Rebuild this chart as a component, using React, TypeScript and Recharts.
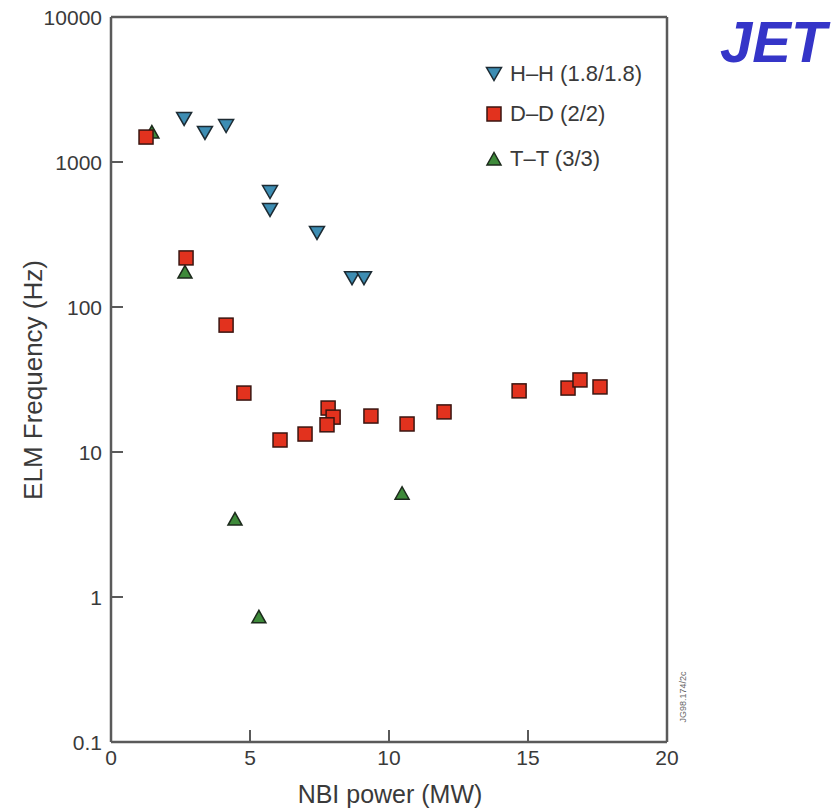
import { ScatterChart, Scatter, XAxis, YAxis, ReferenceLine } from 'recharts'

// NBI power (MW) and ELM frequency (Hz) per isotope
const hhPower = [2.63, 3.38, 4.14, 5.72, 5.72, 7.41, 8.67, 9.1]
const hhFreq = [1980, 1585, 1770, 620, 467, 324, 158, 158]

const ddPower = [1.26, 2.7, 4.14, 4.78, 6.08, 6.98, 7.81, 7.99, 7.77, 9.35, 10.65, 11.98, 14.68, 16.44, 16.87, 17.59]
const ddFreq = [1486, 218, 75, 25.5, 12.1, 13.3, 20.1, 17.4, 15.4, 17.7, 15.6, 18.9, 26.4, 27.6, 31.4, 28.1]

const ttPower = [1.47, 2.66, 4.46, 5.32, 10.47]
const ttFreq = [1610, 174, 3.45, 0.73, 5.2]

const xTicks = [0, 5, 10, 15, 20]
const yMajor = [0.1, 1, 10, 100, 1000, 10000]
const yLabels = ['0.1', '1', '10', '100', '1000', '10000']
const minorSteps = [2, 3, 4, 5, 6, 7, 8, 9]
const yMinor = yMajor.slice(0, -1).flatMap((d) => minorSteps.map((m) => +(d * m).toPrecision(3)))

const FONT = '"Liberation Sans", Arial, Helvetica, sans-serif'
const AXIS = '#5a5a5a'
const TEXT = '#3a3a3a'

const toPoints = (xs: number[], ys: number[]) => xs.map((x, i) => ({ x, y: ys[i] }))

const TriDown = (props: any) => {
  const cx = Number(props.cx)
  const cy = Number(props.cy)
  return (
    <path
      d={`M${cx - 7.5},${cy - 6.5}L${cx + 7.5},${cy - 6.5}L${cx},${cy + 6.5}Z`}
      fill="#3d8db3"
      stroke="#1d2b33"
      strokeWidth={1.5}
    />
  )
}

const TriUp = (props: any) => {
  const cx = Number(props.cx)
  const cy = Number(props.cy)
  return (
    <path
      d={`M${cx - 7},${cy + 6}L${cx + 7},${cy + 6}L${cx},${cy - 6.5}Z`}
      fill="#3e8a3a"
      stroke="#1c2a1c"
      strokeWidth={1.5}
    />
  )
}

const Square = (props: any) => {
  const cx = Number(props.cx)
  const cy = Number(props.cy)
  return <rect x={cx - 7} y={cy - 7} width={14} height={14} fill="#e2321e" stroke="#3a1510" strokeWidth={1.5} />
}

// labels only; the tick marks themselves are the axes' own tick lines (drawn inward)
const YTick = (props: any) => {
  const idx = yMajor.indexOf(props.payload.value)
  return (
    <text x={102} y={Number(props.y)} dy="0.36em" textAnchor="end" fontSize={21} fill={TEXT} fontFamily={FONT}>
      {yLabels[idx]}
    </text>
  )
}

const XTick = (props: any) => (
  <text x={Number(props.x)} y={765} textAnchor="middle" fontSize={21} fill={TEXT} fontFamily={FONT}>
    {props.payload.value}
  </text>
)

const legendItems = [
  { label: 'H–H (1.8/1.8)', Shape: TriDown, top: 74 },
  { label: 'D–D (2/2)', Shape: Square, top: 114 },
  { label: 'T–T (3/3)', Shape: TriUp, top: 159 },
]

export default function App() {
  return (
    <div style={{ position: 'absolute', left: 0, top: 0, width: 835, height: 810, fontFamily: FONT }}>
      <ScatterChart width={835} height={810} margin={{ top: 17, right: 168, bottom: 0, left: 0 }}>
        <XAxis
          dataKey="x"
          type="number"
          domain={[0, 20]}
          ticks={xTicks}
          interval={0}
          tickSize={-12}
          tickMargin={0}
          height={68}
          axisLine={{ stroke: AXIS, strokeWidth: 2.5 }}
          tickLine={{ stroke: AXIS, strokeWidth: 2 }}
          tick={<XTick />}
        />
        <YAxis
          dataKey="y"
          type="number"
          scale="log"
          domain={[0.1, 10000]}
          ticks={yMajor}
          interval={0}
          tickSize={-12}
          tickMargin={0}
          width={111}
          axisLine={{ stroke: AXIS, strokeWidth: 2.5 }}
          tickLine={{ stroke: AXIS, strokeWidth: 2 }}
          tick={<YTick />}
        />
        <YAxis
          yAxisId="minor"
          orientation="left"
          mirror
          type="number"
          scale="log"
          domain={[0.1, 10000]}
          allowDataOverflow
          ticks={yMinor}
          interval={0}
          tickSize={6}
          width={0}
          axisLine={false}
          tickLine={{ stroke: AXIS, strokeWidth: 2 }}
          tick={false}
        />
        <ReferenceLine y={10000} stroke={AXIS} strokeWidth={2.5} ifOverflow="visible" />
        <ReferenceLine x={20} stroke={AXIS} strokeWidth={2.5} ifOverflow="visible" />
        <Scatter name="H–H (1.8/1.8)" data={toPoints(hhPower, hhFreq)} shape={<TriDown />} isAnimationActive={false} />
        <Scatter name="T–T (3/3)" data={toPoints(ttPower, ttFreq)} shape={<TriUp />} isAnimationActive={false} />
        <Scatter name="D–D (2/2)" data={toPoints(ddPower, ddFreq)} shape={<Square />} isAnimationActive={false} />
      </ScatterChart>

      <div
        style={{
          position: 'absolute',
          left: 390,
          top: 794,
          transform: 'translate(-50%, -50%)',
          fontSize: 25,
          color: TEXT,
          whiteSpace: 'nowrap',
        }}
      >
        NBI power (MW)
      </div>

      <div
        style={{
          position: 'absolute',
          left: 33,
          top: 380,
          transform: 'translate(-50%, -50%) rotate(-90deg)',
          fontSize: 26,
          color: TEXT,
          whiteSpace: 'nowrap',
        }}
      >
        ELM Frequency (Hz)
      </div>

      {legendItems.map(({ label, Shape, top }) => (
        <div key={label} style={{ position: 'absolute', left: 484, top: top - 12, height: 24, display: 'flex', alignItems: 'center' }}>
          <svg width={20} height={20} style={{ marginRight: 6 }}>
            <Shape cx={10} cy={10} />
          </svg>
          <span style={{ fontSize: 22, color: TEXT, whiteSpace: 'nowrap' }}>{label}</span>
        </div>
      ))}

      <div
        style={{
          position: 'absolute',
          left: 720,
          top: 10,
          fontSize: 58,
          fontWeight: 'bold',
          fontStyle: 'italic',
          color: '#3535c8',
          lineHeight: '64px',
        }}
      >
        JET
      </div>

      <div
        style={{
          position: 'absolute',
          left: 683,
          top: 697,
          fontSize: 9,
          color: '#666',
          transform: 'translate(-50%, -50%) rotate(-90deg)',
          whiteSpace: 'nowrap',
        }}
      >
        JG98.174/2c
      </div>
    </div>
  )
}
